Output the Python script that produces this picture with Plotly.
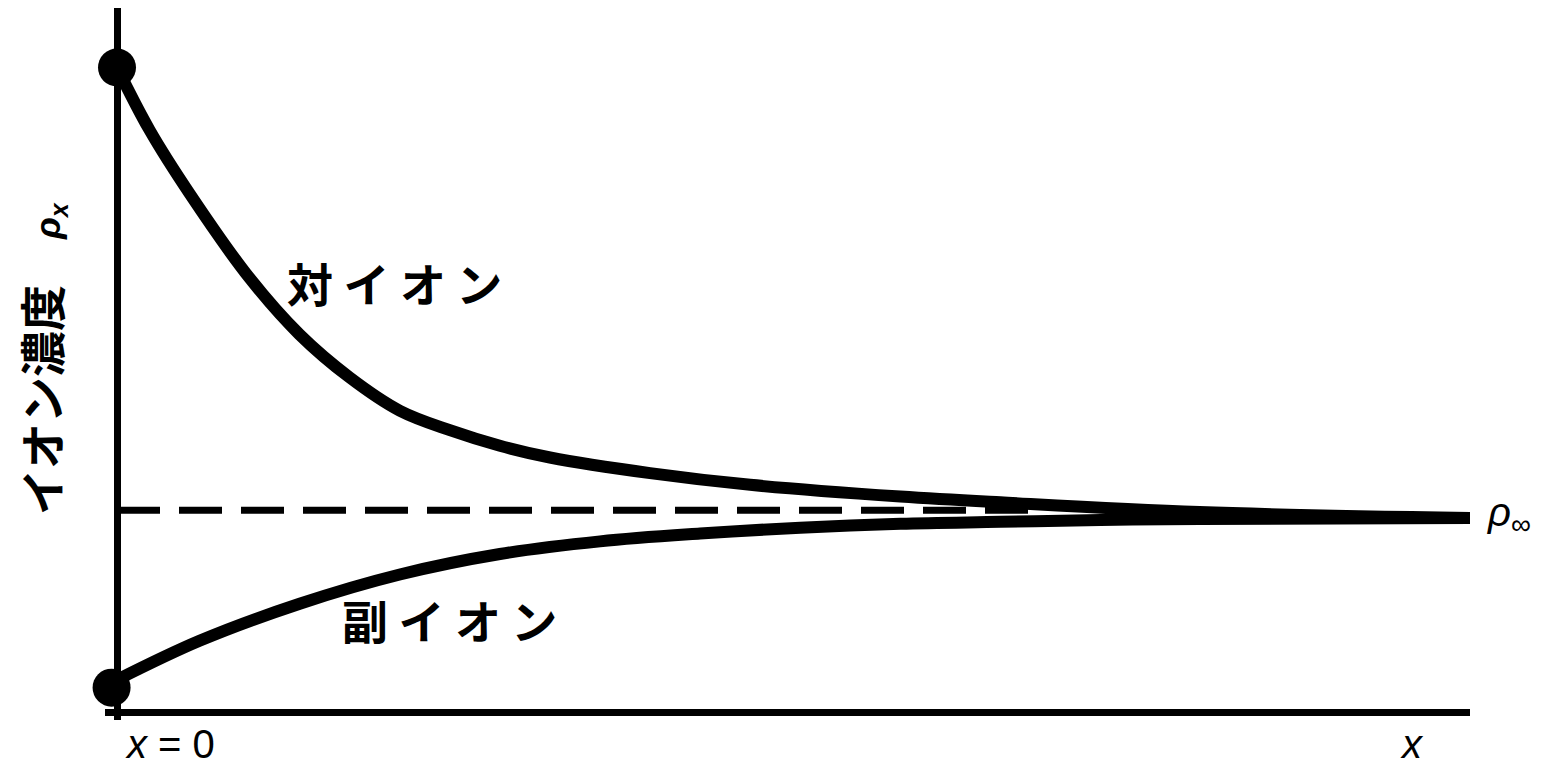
import plotly.graph_objects as go

# distance from the wall (x = 0 .. 10) and ion concentration in units of rho_inf
counter_x = [0, 0.24, 0.54, 0.98, 1.35, 1.72, 2.09, 2.46, 2.83, 3.20, 3.94, 4.68, 5.79, 6.53, 8.0, 10.0]
counter_y = [3.31, 2.99, 2.66, 2.23, 1.94, 1.72, 1.55, 1.45, 1.37, 1.31, 1.23, 1.17, 1.11, 1.08, 1.03, 1.0]

co_x = [0, 0.61, 1.35, 2.09, 2.83, 3.57, 4.31, 5.05, 5.79, 6.53, 7.27, 8.0, 10.0]
co_y = [0.17, 0.37, 0.56, 0.71, 0.815, 0.88, 0.92, 0.95, 0.97, 0.98, 0.99, 0.995, 1.0]

# values at the wall
wall_x = [0, -0.04]
wall_y = [3.31, 0.13]

# bulk level
bulk_x = [0, 6.75]
bulk_y = [1.04, 1.04]

jp = "Noto Sans CJK JP"
latin = "Liberation Sans"

fig = go.Figure()

fig.add_trace(go.Scatter(x=bulk_x, y=bulk_y, mode='lines',
                         line=dict(color='black', width=7, dash='43px,19px')))
fig.add_trace(go.Scatter(x=counter_x, y=counter_y, mode='lines',
                         line=dict(color='black', width=12, shape='spline', smoothing=1.0)))
fig.add_trace(go.Scatter(x=co_x, y=co_y, mode='lines',
                         line=dict(color='black', width=12, shape='spline', smoothing=1.0)))
fig.add_trace(go.Scatter(x=wall_x, y=wall_y, mode='markers',
                         marker=dict(color='black', size=38), cliponaxis=False))

# labels
fig.add_annotation(x=2.05, y=2.21, text="対 イ オ ン", showarrow=False,
                   font=dict(family=jp, size=46, color='black', weight='bold'))
fig.add_annotation(x=2.46, y=0.48, text="副 イ オ ン", showarrow=False,
                   font=dict(family=jp, size=46, color='black', weight='bold'))
fig.add_annotation(xref='paper', yref='paper', x=1.011, y=0.288,
                   xanchor='left', yanchor='middle',
                   text="<i>ρ</i><sub>∞</sub>", showarrow=False,
                   font=dict(family=latin, size=40, color='black'))
fig.add_annotation(xref='paper', yref='paper', x=0.0476, y=-0.0674,
                   xanchor='center', yanchor='bottom',
                   text="<i>x</i> = 0", showarrow=False,
                   font=dict(family=latin, size=40, color='black'))
fig.add_annotation(xref='paper', yref='paper', x=0.9575, y=-0.0674,
                   xanchor='center', yanchor='bottom',
                   text="<i>x</i>", showarrow=False,
                   font=dict(family=latin, size=40, color='black'))
fig.add_annotation(xref='paper', yref='paper', x=-0.0476, y=0.507, textangle=-90,
                   xanchor='center', yanchor='middle', showarrow=False,
                   text="イオン濃度\u3000<span style='font-family:Liberation Sans;font-size:36px'><i>ρ</i><sub><i>x</i></sub></span>",
                   font=dict(family=jp, size=46, color='black', weight='bold'))

# the page adds an 8px body margin, so the plot area is shifted left/up by that much
fig.update_layout(
    width=1545, height=769,
    margin=dict(l=97, r=83, t=0, b=57),
    paper_bgcolor='white', plot_bgcolor='white',
    showlegend=False,
    xaxis=dict(range=[-0.0887, 10], showgrid=False, showticklabels=False, ticks='',
               zeroline=True, zerolinecolor='black', zerolinewidth=7),
    yaxis=dict(range=[-0.036, 3.615], showgrid=False, showticklabels=False, ticks='',
               zeroline=True, zerolinecolor='black', zerolinewidth=7),
)

fig.write_html("out.html")
